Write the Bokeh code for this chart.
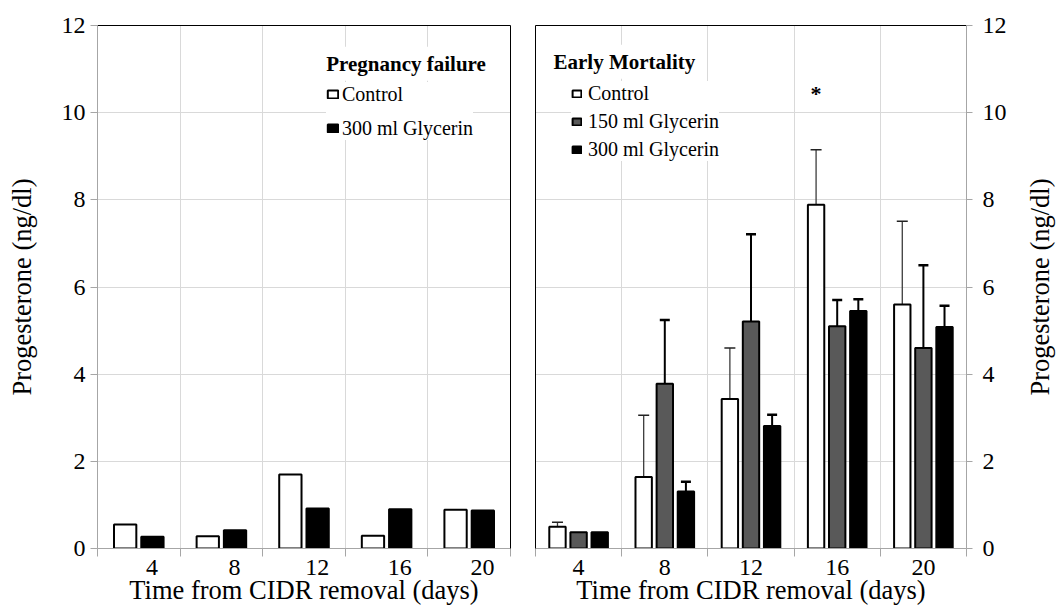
import math
import numpy as np
from bokeh.plotting import figure
from bokeh.models import (ColumnDataSource, Range1d, FixedTicker, LinearAxis, Legend,
                          LegendItem, Label, Whisker, TeeHead)
from bokeh.layouts import row
from bokeh.embed import file_html
from bokeh.resources import INLINE

# ---------------- data ----------------
days = [4, 8, 12, 16, 20]
# Pregnancy failure (left panel)
pf_control = [0.55, 0.28, 1.70, 0.29, 0.89]
pf_glyc300 = [0.27, 0.42, 0.92, 0.90, 0.87]
# Early mortality (right panel)
em_control = [0.50, 1.64, 3.43, 7.89, 5.60]
em_control_sem = [0.10, 1.42, 1.17, 1.26, 1.91]
em_glyc150 = [0.37, 3.78, 5.21, 5.10, 4.60]
em_glyc150_sem = [0.0, 1.46, 2.00, 0.60, 1.90]
em_glyc300 = [0.37, 1.31, 2.81, 5.45, 5.08]
em_glyc300_sem = [0.0, 0.22, 0.26, 0.27, 0.49]
y_ticks = [0, 2, 4, 6, 8, 10, 12]
sig_day = [16]
sig_y = [10.43]
x_title = "Time from CIDR removal (days)"
y_title = "Progesterone (ng/dl)"

FONT = "'Liberation Serif', 'Times New Roman', Times, serif"
AXIS_GRAY = "#a6a6a6"
GRID_GRAY = "#d9d9d9"
C_CTRL = "white"
C_150 = "#595959"
C_300 = "black"
TITLE_SIZE = "26.5px"

n = len(days)
centers = np.arange(n) + 0.5
boundaries = [float(b) for b in range(n + 1)]


def make_fig(width, mb_left, mb_right, mb_top, mb_bottom, y_loc, label_shift, title_bounds):
    p = figure(width=width, height=609, x_range=Range1d(0, n), y_range=Range1d(0, 12),
               output_backend="svg", toolbar_location=None, y_axis_location=y_loc,
               min_border_left=mb_left, min_border_right=mb_right,
               min_border_top=mb_top, min_border_bottom=mb_bottom)
    p.outline_line_color = None
    p.background_fill_color = "white"
    p.border_fill_color = "white"
    # grids
    p.xgrid[0].ticker = FixedTicker(ticks=boundaries)
    p.ygrid[0].ticker = FixedTicker(ticks=y_ticks)
    for g in (p.xgrid[0], p.ygrid[0]):
        g.grid_line_color = GRID_GRAY
        g.grid_line_width = 1
    # x axis: line, category separators and day labels
    label_pos = [float(c + label_shift) for c in centers]
    xa = p.xaxis[0]
    xa.ticker = FixedTicker(ticks=label_pos, minor_ticks=boundaries)
    xa.major_label_overrides = {lp: str(d) for lp, d in zip(label_pos, days)}
    xa.major_tick_out = 0
    xa.major_tick_in = 0
    xa.major_tick_line_color = None
    xa.minor_tick_out = 8
    xa.minor_tick_in = 0
    xa.minor_tick_line_color = AXIS_GRAY
    xa.axis_line_color = AXIS_GRAY
    xa.major_label_text_font = FONT
    xa.major_label_text_font_size = "24px"
    xa.major_label_text_color = "black"
    xa.major_label_standoff = 3
    # x title on its own axis, centred where the reference puts it
    xt = LinearAxis(ticker=FixedTicker(ticks=[]), bounds=title_bounds,
                    axis_line_color=None, major_tick_out=0, major_tick_in=0,
                    minor_tick_out=0, minor_tick_in=0,
                    major_label_text_font_size="0px", major_label_standoff=0,
                    axis_label=x_title, axis_label_text_font=FONT,
                    axis_label_text_font_size=TITLE_SIZE,
                    axis_label_text_font_style="normal",
                    axis_label_text_color="black", axis_label_standoff=-3)
    p.add_layout(xt, "below")
    # y axis
    ya = p.yaxis[0]
    ya.ticker = FixedTicker(ticks=y_ticks)
    ya.axis_line_color = AXIS_GRAY
    ya.major_tick_line_color = AXIS_GRAY
    ya.major_tick_in = 0
    ya.minor_tick_line_color = None
    ya.major_label_text_font = FONT
    ya.major_label_text_font_size = "24px"
    ya.major_label_text_color = "black"
    return p


def border_axis(p, side):
    ax = LinearAxis(ticker=FixedTicker(ticks=[]), axis_line_color="black", axis_line_width=1,
                    major_tick_out=0, major_tick_in=0, minor_tick_out=0, minor_tick_in=0,
                    major_label_text_font_size="0px", major_label_standoff=0)
    p.add_layout(ax, side)


def style_y_title(ax, standoff):
    ax.axis_label = y_title
    ax.axis_label_text_font = FONT
    ax.axis_label_text_font_size = TITLE_SIZE
    ax.axis_label_text_font_style = "normal"
    ax.axis_label_text_color = "black"
    ax.axis_label_standoff = standoff


# ---------------- left panel ----------------
p1 = make_fig(520, 97, 10, 24, 61, "left", 0.16, (0.37, 5.0))
p1.yaxis[0].major_tick_out = 7
p1.yaxis[0].major_label_standoff = 5
style_y_title(p1.yaxis[0], 22)
border_axis(p1, "above")
border_axis(p1, "right")

w1 = 0.27
off1 = 0.165
src_pf = ColumnDataSource(dict(xc=centers - off1, xg=centers + off1,
                               ctrl=pf_control, g300=pf_glyc300))
r_pf_c = p1.vbar(x="xc", top="ctrl", width=w1, bottom=0, source=src_pf,
                 fill_color=C_CTRL, line_color="black", line_width=2)
r_pf_g = p1.vbar(x="xg", top="g300", width=w1, bottom=0, source=src_pf,
                 fill_color=C_300, line_color="black", line_width=2)

leg1 = Legend(items=[LegendItem(label="Control", renderers=[r_pf_c]),
                     LegendItem(label="300 ml Glycerin", renderers=[r_pf_g])],
              location=(229, 408))
for k, v in dict(background_fill_color="white", background_fill_alpha=1.0,
                 border_line_color=None, padding=10, spacing=10, margin=0,
                 glyph_width=13, glyph_height=10, label_height=24, label_standoff=3,
                 label_text_font=FONT, label_text_font_size="20px",
                 label_text_color="black").items():
    setattr(leg1, k, v)
p1.add_layout(leg1)
p1.add_layout(Label(x=223.7, y=484.7, x_units="screen", y_units="screen",
                    text="Pregnancy failure", text_font=FONT, text_font_style="bold",
                    text_font_size="21px", text_baseline="alphabetic", text_color="black",
                    background_fill_color="white", padding=5))

# ---------------- right panel ----------------
p2 = make_fig(491, 15, 45, 22, 59, "right", 0.0, (0.5, 5.0))
p2.yaxis[0].major_tick_out = 6
p2.yaxis[0].major_label_standoff = 10
border_axis(p2, "above")
border_axis(p2, "left")

w2 = 0.19
off2 = 0.245
xs = {"c": centers - off2, "150": centers, "300": centers + off2}
src_em = ColumnDataSource(dict(xc=xs["c"], x150=xs["150"], x300=xs["300"],
                               ctrl=em_control, g150=em_glyc150, g300=em_glyc300))

# error bars (upper only)
def whisker_src(xv, vals, sems):
    keep = [i for i, s in enumerate(sems) if s > 0]
    return ColumnDataSource(dict(x=[xv[i] for i in keep],
                                 lower=[vals[i] for i in keep],
                                 upper=[vals[i] + sems[i] for i in keep]))

wk_c = Whisker(source=whisker_src(xs["c"], em_control, em_control_sem), base="x",
               lower="lower", upper="upper", line_color="#3c3c3c", line_width=1.3,
               upper_head=TeeHead(size=11, line_color="#222222", line_width=1.5),
               lower_head=None)
wk_150 = Whisker(source=whisker_src(xs["150"], em_glyc150, em_glyc150_sem), base="x",
                 lower="lower", upper="upper", line_color="black", line_width=2,
                 upper_head=TeeHead(size=10, line_color="black", line_width=2.5),
                 lower_head=None)
wk_300 = Whisker(source=whisker_src(xs["300"], em_glyc300, em_glyc300_sem), base="x",
                 lower="lower", upper="upper", line_color="black", line_width=2,
                 upper_head=TeeHead(size=10, line_color="black", line_width=2.5),
                 lower_head=None)
for wk in (wk_c, wk_150, wk_300):
    p2.add_layout(wk)

r_em_c = p2.vbar(x="xc", top="ctrl", width=w2, bottom=0, source=src_em,
                 fill_color=C_CTRL, line_color="black", line_width=2)
r_em_150 = p2.vbar(x="x150", top="g150", width=w2, bottom=0, source=src_em,
                   fill_color=C_150, line_color="black", line_width=2)
r_em_300 = p2.vbar(x="x300", top="g300", width=w2, bottom=0, source=src_em,
                   fill_color=C_300, line_color="black", line_width=2)

leg2 = Legend(items=[LegendItem(label="Control", renderers=[r_em_c]),
                     LegendItem(label="150 ml Glycerin", renderers=[r_em_150]),
                     LegendItem(label="300 ml Glycerin", renderers=[r_em_300])],
              location=(36, 387))
for k, v in dict(background_fill_color="white", background_fill_alpha=1.0,
                 border_line_color=None, padding=10, spacing=4, margin=0,
                 glyph_width=11, glyph_height=9, label_height=24, label_standoff=6,
                 label_text_font=FONT, label_text_font_size="20px",
                 label_text_color="black").items():
    setattr(leg2, k, v)
p2.add_layout(leg2)
p2.add_layout(Label(x=13, y=486.7, x_units="screen", y_units="screen",
                    text="Early Mortality", text_font=FONT, text_font_style="bold",
                    text_font_size="21px", text_baseline="alphabetic", text_color="black",
                    background_fill_color="white", padding=5))

for d, yv in zip(sig_day, sig_y):
    i = days.index(d)
    p2.add_layout(Label(x=float(xs["c"][i]), y=yv, text="*", text_font=FONT,
                        text_font_style="bold", text_font_size="22px",
                        text_align="center", text_baseline="alphabetic",
                        text_color="black", background_fill_color="white", padding=3))

# ---------------- right-hand y title (strip sharing the right panel's y range) ----------------
p3 = figure(width=51, height=609, y_range=p2.y_range, x_range=Range1d(0, 1),
            output_backend="svg", toolbar_location=None, x_axis_location=None,
            y_axis_location="left", min_border_left=50, min_border_right=0,
            min_border_top=25, min_border_bottom=56)
p3.outline_line_color = None
p3.background_fill_color = "white"
p3.border_fill_color = "white"
p3.grid.visible = False
ya3 = p3.yaxis[0]
ya3.ticker = FixedTicker(ticks=[])
ya3.axis_line_color = None
ya3.major_tick_out = 0
ya3.major_tick_in = 0
ya3.minor_tick_out = 0
ya3.minor_tick_in = 0
ya3.major_label_text_font_size = "0px"
ya3.major_label_standoff = 0
style_y_title(ya3, 7)

layout = row(p1, p2, p3)
open("out.html", "w").write(file_html(layout, INLINE))
